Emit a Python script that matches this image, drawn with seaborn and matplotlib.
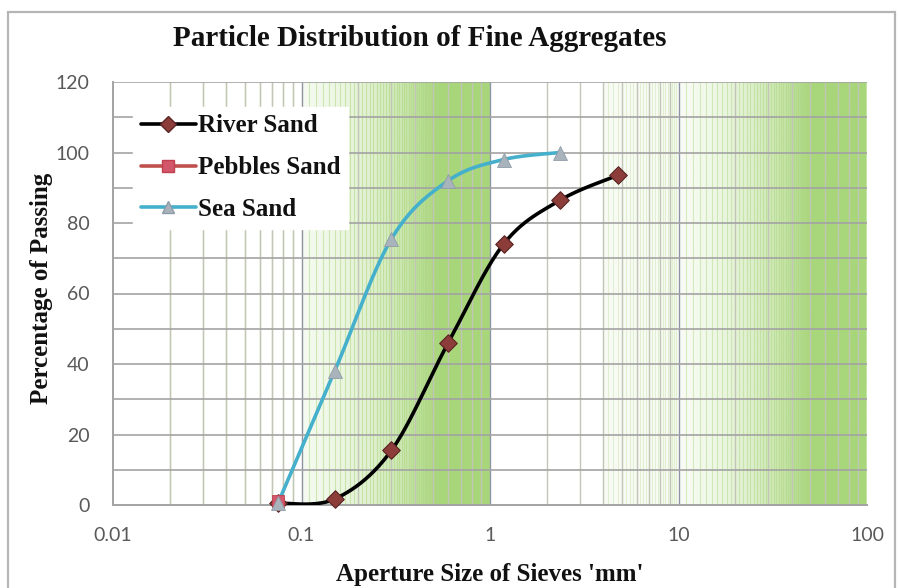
import numpy as np
import pandas as pd
import matplotlib
matplotlib.use("Agg")
import matplotlib.pyplot as plt
from matplotlib.lines import Line2D
from matplotlib.patches import Rectangle
from matplotlib.colors import to_rgb
import seaborn as sns

# ---- data ----
sieve_river = [0.075, 0.15, 0.3, 0.6, 1.18, 2.36, 4.75]
river_sand = [0.5, 1.7, 15.5, 46, 74, 86.5, 93.5]
sieve_pebbles = [0.075]
pebbles_sand = [1.0]
sieve_sea = [0.075, 0.15, 0.3, 0.6, 1.18, 2.36]
sea_sand = [0.5, 38, 75.5, 92, 98, 100]
x_ticks = [0.01, 0.1, 1, 10, 100]
x_tick_labels = ["0.01", "0.1", "1", "10", "100"]
y_ticks = [0, 20, 40, 60, 80, 100, 120]

title = "Particle Distribution of Fine Aggregates"
xlabel = "Aperture Size of Sieves 'mm'"
ylabel = "Percentage of Passing"


def smooth(xs, ys, n=40):
    P = np.column_stack([np.log10(xs), ys]).astype(float)
    if len(P) < 2:
        return np.array(xs, float), np.array(ys, float)
    segs = []
    t = np.linspace(0, 1, n)[:, None]
    for i in range(len(P) - 1):
        p0 = P[i - 1] if i > 0 else P[i]
        p1, p2 = P[i], P[i + 1]
        p3 = P[i + 2] if i + 2 < len(P) else P[i + 1]
        c1 = p1 + (p2 - p0) / 6
        c2 = p2 - (p3 - p1) / 6
        seg = (1 - t) ** 3 * p1 + 3 * (1 - t) ** 2 * t * c1 + 3 * (1 - t) * t ** 2 * c2 + t ** 3 * p2
        segs.append(seg)
    S = np.vstack(segs)
    return 10 ** S[:, 0], S[:, 1]


sns.set_style("white")
serif = ["Liberation Serif", "DejaVu Serif"]
plt.rcParams["font.family"] = ["Lato", "DejaVu Sans"]

W, H = 898, 588
fig = plt.figure(figsize=(W / 100, H / 100), dpi=100)
fig.patch.set_facecolor("white")
L, R, T, B = 113, 867, 82, 505
ax = fig.add_axes([L / W, 1 - B / H, (R - L) / W, (B - T) / H])

# outer chart border
fig.patches.append(Rectangle((8 / W, -0.05), (895 - 8) / W, 1 + 0.05 - 12 / H,
                             transform=fig.transFigure, fill=False,
                             edgecolor="#B5B5B5", lw=1.6))

ax.set_xscale("log")
ax.set_xlim(0.01, 100)
ax.set_ylim(0, 120)

green = "#A8D67A"
# green gradient background (decades 0.1-1 and 10-100)
lx = np.linspace(-2, 2, 1200)
xv = 10 ** lx
alpha = np.zeros_like(xv)
m1 = (xv > 0.1) & (xv < 1)
alpha[m1] = np.clip(2.0 * xv[m1] - 0.1, 0, 1)
m2 = (xv > 10) & (xv < 100)
alpha[m2] = np.clip((xv[m2] - 7) / 45.0, 0, 1)
m3 = (xv > 4) & (xv < 10)
alpha[m3] = 0.08
img = np.zeros((1, len(xv), 4))
img[..., :3] = to_rgb(green)
img[..., 3] = alpha
ax.imshow(img, extent=(0, 1, 0, 1), transform=ax.transAxes, aspect="auto",
          interpolation="bilinear", zorder=0.3)
# texture lines
ax.vlines(0.1 + 0.01 * np.arange(1, 90), 0, 120, color=green, lw=0.8, alpha=0.5, zorder=0.5)
ax.vlines(10 + 1.0 * np.arange(1, 90), 0, 120, color=green, lw=0.8, alpha=0.45, zorder=0.5)
ax.vlines(4 + 0.25 * np.arange(0, 24), 0, 120, color=green, lw=0.8, alpha=0.3, zorder=0.5)
ax.vlines(0.02 + 0.01 * np.arange(0, 8), 0, 120, color=green, lw=1.0, alpha=0.5, zorder=0.5)

# minor vertical grid 2..9 per decade
minors = [m * 10.0 ** e for e in range(-2, 2) for m in range(2, 10)]
ax.vlines(minors, 0, 120, color="#C2C6B6", lw=1.0, zorder=0.8)
ax.vlines([0.1, 1, 10], 0, 120, color="#8E94A4", lw=1.0, zorder=0.9)
# horizontal grid every 10
ax.hlines(np.arange(10, 121, 10), 0.01, 100, color="#A3A3A3", lw=1.2, zorder=1)

# curves
sx, sy = smooth(sieve_river, river_sand)
sns.lineplot(x=sx, y=sy, sort=False, estimator=None, color="black", lw=2.6, ax=ax, zorder=3)
sx, sy = smooth(sieve_sea, sea_sand)
sns.lineplot(x=sx, y=sy, sort=False, estimator=None, color="#45B0CB", lw=2.6, ax=ax, zorder=3)

river_mk = dict(marker="D", s=80, color="#8C3D3A", edgecolor="#5A2424", linewidth=0.8)
peb_mk = dict(marker="s", s=80, color="#D2576A", edgecolor="#C04050", linewidth=0.6)
sea_mk = dict(marker="^", s=100, color="#A9B3BC", edgecolor="#8E9CA8", linewidth=0.6)
sns.scatterplot(x=sieve_river, y=river_sand, ax=ax, zorder=4, clip_on=False, **river_mk)
sns.scatterplot(x=sieve_pebbles, y=pebbles_sand, ax=ax, zorder=4, clip_on=False, **peb_mk)
sns.scatterplot(x=sieve_sea, y=sea_sand, ax=ax, zorder=5, clip_on=False, **sea_mk)

# axes styling
for s in ["top", "right"]:
    ax.spines[s].set_visible(False)
for s in ["left", "bottom"]:
    ax.spines[s].set_color("#A3A3A3")
    ax.spines[s].set_linewidth(1.4)
ax.set_xticks(x_ticks)
ax.set_xticklabels(x_tick_labels)
ax.set_yticks(y_ticks)
ax.xaxis.set_minor_locator(matplotlib.ticker.NullLocator())
ax.tick_params(axis="both", length=0, labelsize=14, labelcolor="#595959")
ax.tick_params(axis="x", pad=16)
ax.tick_params(axis="y", pad=17)

fig.text(420 / W, 1 - 39 / H, title, family=serif, weight="bold", fontsize=21,
         ha="center", va="center", color="#111111")
fig.text(490 / W, 1 - 575 / H, xlabel, family=serif, weight="bold", fontsize=18,
         ha="center", va="center", color="#111111")
fig.text(42 / W, 1 - 288 / H, ylabel, family=serif, weight="bold", fontsize=18,
         ha="center", va="center", rotation=90, color="#111111")

handles = [
    Line2D([], [], color="black", lw=2.6, marker="D", markersize=8,
           markerfacecolor="#8C3D3A", markeredgecolor="#5A2424"),
    Line2D([], [], color="#C0504D", lw=2.6, marker="s", markersize=8,
           markerfacecolor="#D2576A", markeredgecolor="#C04050"),
    Line2D([], [], color="#45B0CB", lw=2.6, marker="^", markersize=9,
           markerfacecolor="#A9B3BC", markeredgecolor="#8E9CA8"),
]
leg = ax.legend(handles, ["River Sand", "Pebbles Sand", "Sea Sand"],
                loc="upper left", bbox_to_anchor=(133 / W, 1 - 107 / H),
                bbox_transform=fig.transFigure, frameon=True, fancybox=False,
                facecolor="white", edgecolor="white", framealpha=1,
                handlelength=2.2, handletextpad=0.1, labelspacing=0.75,
                borderpad=0.3, borderaxespad=0,
                prop={"family": serif, "weight": "bold", "size": 18})
leg.set_zorder(6)
for t in leg.get_texts():
    t.set_color("#111111")

fig.savefig("out.png", dpi=100, facecolor="white")
